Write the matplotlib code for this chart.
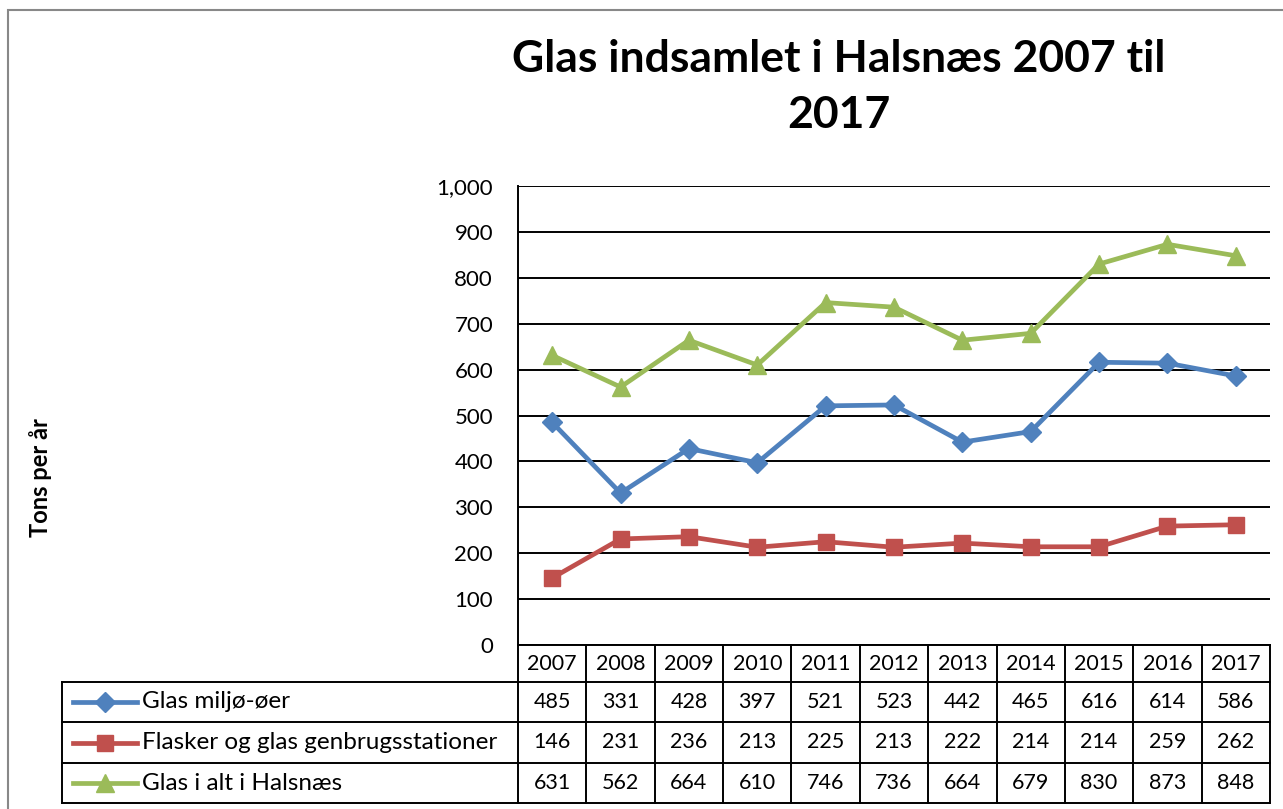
import matplotlib
matplotlib.use("Agg")
import matplotlib.pyplot as plt
from matplotlib.transforms import blended_transform_factory
from matplotlib.lines import Line2D
from matplotlib.patches import Rectangle

plt.rcParams['font.family'] = ['Lato', 'DejaVu Sans']

years = ["2007", "2008", "2009", "2010", "2011", "2012", "2013", "2014", "2015", "2016", "2017"]
series_names = ["Glas miljø-øer", "Flasker og glas genbrugsstationer", "Glas i alt i Halsnæs"]
miljo = [485, 331, 428, 397, 521, 523, 442, 465, 616, 614, 586]
flasker = [146, 231, 236, 213, 225, 213, 222, 214, 214, 259, 262]
total = [631, 562, 664, 610, 746, 736, 664, 679, 830, 873, 848]
yticks = [0, 100, 200, 300, 400, 500, 600, 700, 800, 900, 1000]

colors = ["#4F81BD", "#C0504D", "#9BBB59"]
markers = ["D", "s", "^"]
msizes = [10, 12, 13]
values = [miljo, flasker, total]

W, H = 1283, 809
fig = plt.figure(figsize=(W / 100, H / 100), dpi=100)

def fx(px):
    return px / W

def fy(py):
    return 1 - py / H

# outer chart border
fig.patches.append(Rectangle((fx(8), fy(812)), fx(1290 - 8), fy(10) - fy(812),
                             transform=fig.transFigure, fill=False,
                             edgecolor="#888888", linewidth=1.5))

left_px, right_px, top_px, bot_px = 518, 1270, 186, 645
ax = fig.add_axes([fx(left_px), fy(bot_px), fx(right_px - left_px), fy(top_px) - fy(bot_px)])
x = list(range(len(years)))
for vals, c, m, ms in zip(values, colors, markers, msizes):
    ax.plot(x, vals, color=c, linewidth=3.4, marker=m, markersize=ms,
            markerfacecolor=c, markeredgecolor=c, zorder=3)

ax.set_xlim(-0.5, len(years) - 0.5)
ax.set_ylim(0, 1000)
ax.set_yticks(yticks)
ax.set_yticklabels([f"{v:,}" for v in yticks], fontsize=16)
ax.tick_params(axis="y", length=0, pad=18)
ax.set_xticks([])
ax.grid(axis="y", color="black", linewidth=1.4)
ax.set_axisbelow(True)
for s in ["top", "right", "bottom"]:
    ax.spines[s].set_visible(False)
ax.spines["left"].set_linewidth(1.4)

fig.text(fx(40), fy(478), "Tons per år", rotation=90, ha="center", va="center",
         fontsize=17, fontweight="bold")

fig.text(fx(839), fy(87), "Glas indsamlet i Halsnæs 2007 til\n2017", ha="center", va="center",
         fontsize=32, fontweight="bold", linespacing=1.5)

# data table
bt = blended_transform_factory(ax.transData, fig.transFigure)
row_edges = [645, 682, 722, 763, 803]
lw = 1.4
for ry in row_edges:
    fig.add_artist(Line2D([-0.5, len(years) - 0.5], [fy(ry), fy(ry)], transform=bt,
                          color="black", linewidth=lw))
for i in range(len(years) + 1):
    xx = i - 0.5
    fig.add_artist(Line2D([xx, xx], [fy(645), fy(803)], transform=bt, color="black", linewidth=lw))
tab_left = 62
for ry in row_edges[1:]:
    fig.add_artist(Line2D([fx(tab_left), fx(left_px)], [fy(ry), fy(ry)], transform=fig.transFigure,
                          color="black", linewidth=lw))
fig.add_artist(Line2D([fx(tab_left), fx(tab_left)], [fy(682), fy(803)], transform=fig.transFigure,
                      color="black", linewidth=lw))

for i, yr in enumerate(years):
    fig.text(i, fy((row_edges[0] + row_edges[1]) / 2), yr, transform=bt, ha="center", va="center",
             fontsize=15.5)

for r, (name, vals, c, m, ms) in enumerate(zip(series_names, values, colors, markers, msizes)):
    yc = fy((row_edges[r + 1] + row_edges[r + 2]) / 2)
    fig.add_artist(Line2D([fx(73), fx(137)], [yc, yc], transform=fig.transFigure, color=c,
                          linewidth=3.4))
    fig.add_artist(Line2D([fx(105)], [yc], transform=fig.transFigure, color=c, marker=m,
                          markersize=ms, markerfacecolor=c, markeredgecolor=c, linestyle="none"))
    fig.text(fx(142), yc, name, ha="left", va="center", fontsize=17.5)
    for i, v in enumerate(vals):
        fig.text(i, yc, str(v), transform=bt, ha="center", va="center", fontsize=15.5)

fig.savefig("out.png", dpi=100)
